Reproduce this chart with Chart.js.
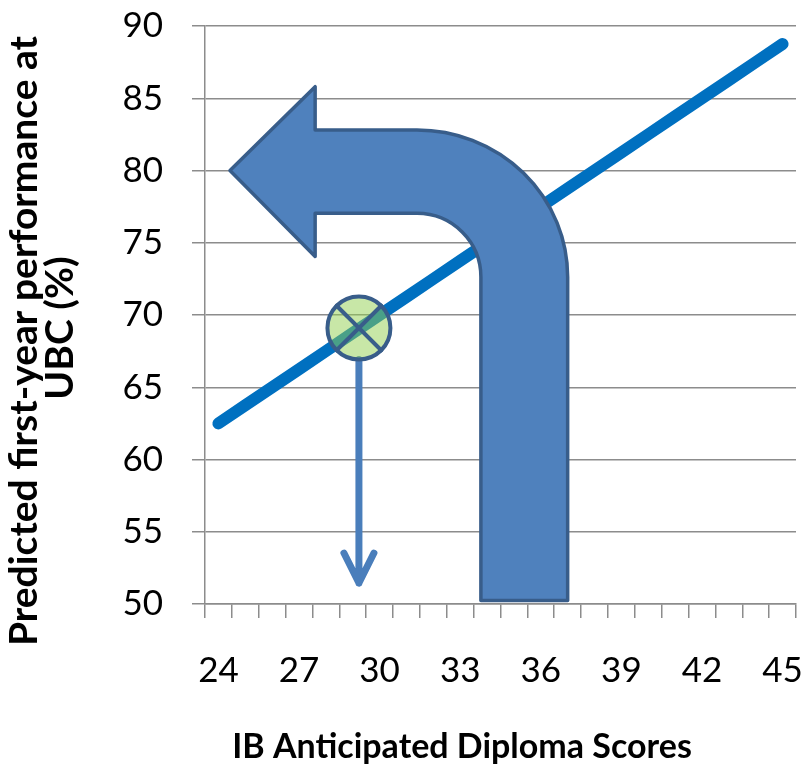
<!DOCTYPE html>
<html>
<head>
<meta charset="utf-8">
<title>IB Anticipated Diploma Scores</title>
<script src="https://cdn.jsdelivr.net/npm/chart.js@4.4.1/dist/chart.umd.min.js"></script>
<style>
  html, body { margin: 0; padding: 0; background: #ffffff; }
  #wrap { width: 807px; height: 766px; }
</style>
</head>
<body>
<div id="wrap"><canvas id="ibChart" width="807" height="766"></canvas></div>
<script>
// IB score categories along the x axis
const scores = ['24', '25', '26', '27', '28', '29', '30', '31', '32', '33', '34',
  '35', '36', '37', '38', '39', '40', '41', '42', '43', '44', '45'];
// Only every third score gets a label
const scoreLabels = ['24', '27', '30', '33', '36', '39', '42', '45'];
// Predicted first-year average (%) for each score
const predicted = [62.5, 63.75, 65, 66.25, 67.5, 68.75, 70, 71.25, 72.5, 73.75, 75,
  76.25, 77.5, 78.75, 80, 81.25, 82.5, 83.75, 85, 86.25, 87.5, 88.75];
const yMin = 50;
const yMax = 90;
const yStep = 5;

const GRID = '#8c8c8c';
const TICK_FONT = "'Lato', 'Open Sans', sans-serif";
const TITLE_FONT = "'Lato', 'Open Sans', sans-serif";

// Shapes drawn on top of the line, in score / percent units
const uTurn = {
  tip: [24.43, 80.0],
  headX: 27.6, headTop: 85.8, headBottom: 74.05,
  shaftTop: 82.8, shaftBottom: 77.04,
  bendX: 31.39, bendY: 72.63,
  innerX: 33.77, outerX: 37.0,
  foot: 50.25
};
const marker = { at: [29.23, 69.1], radius: 31.5, arrowTo: 51.45 };

function xPx(chart, score) {
  return chart.scales.x.getPixelForValue(score - 24);
}
function yPx(chart, value) {
  return chart.scales.y.getPixelForValue(value);
}

const shapesPlugin = {
  id: 'shapes',
  afterDatasetsDraw(chart) {
    const ctx = chart.ctx;
    const u = uTurn;
    const cx = xPx(chart, u.bendX), cy = yPx(chart, u.bendY);

    // big U-turn arrow
    ctx.save();
    ctx.beginPath();
    ctx.moveTo(xPx(chart, u.tip[0]), yPx(chart, u.tip[1]));
    ctx.lineTo(xPx(chart, u.headX), yPx(chart, u.headTop));
    ctx.lineTo(xPx(chart, u.headX), yPx(chart, u.shaftTop));
    ctx.lineTo(cx, yPx(chart, u.shaftTop));
    ctx.ellipse(cx, cy, xPx(chart, u.outerX) - cx, cy - yPx(chart, u.shaftTop), 0, -Math.PI / 2, 0, false);
    ctx.lineTo(xPx(chart, u.outerX), yPx(chart, u.foot));
    ctx.lineTo(xPx(chart, u.innerX), yPx(chart, u.foot));
    ctx.lineTo(xPx(chart, u.innerX), cy);
    ctx.ellipse(cx, cy, xPx(chart, u.innerX) - cx, cy - yPx(chart, u.shaftBottom), 0, 0, -Math.PI / 2, true);
    ctx.lineTo(xPx(chart, u.headX), yPx(chart, u.shaftBottom));
    ctx.lineTo(xPx(chart, u.headX), yPx(chart, u.headBottom));
    ctx.closePath();
    ctx.fillStyle = '#4f81bd';
    ctx.fill();
    ctx.lineJoin = 'round';
    ctx.lineWidth = 3.5;
    ctx.strokeStyle = '#385d8a';
    ctx.stroke();

    // thin arrow dropping from the marker to the x axis
    const mx = xPx(chart, marker.at[0]), my = yPx(chart, marker.at[1]);
    const r = marker.radius;
    const tipY = yPx(chart, marker.arrowTo);
    ctx.lineCap = 'round';
    ctx.strokeStyle = '#4a7ebb';
    ctx.lineWidth = 7;
    ctx.beginPath();
    ctx.moveTo(mx, my + r);
    ctx.lineTo(mx, tipY);
    ctx.moveTo(mx - 15, tipY - 30);
    ctx.lineTo(mx, tipY);
    ctx.lineTo(mx + 15, tipY - 30);
    ctx.stroke();

    // marker circle with a cross
    ctx.beginPath();
    ctx.arc(mx, my, r, 0, Math.PI * 2);
    ctx.fillStyle = 'rgba(146, 208, 80, 0.5)';
    ctx.fill();
    ctx.lineWidth = 4;
    ctx.strokeStyle = '#385d8a';
    ctx.stroke();
    const d = r * Math.SQRT1_2;
    ctx.beginPath();
    ctx.moveTo(mx - d, my - d);
    ctx.lineTo(mx + d, my + d);
    ctx.moveTo(mx + d, my - d);
    ctx.lineTo(mx - d, my + d);
    ctx.stroke();
    ctx.restore();
  }
};

// axis titles, placed by hand so they sit where the layout wants them
const titlesPlugin = {
  id: 'titles',
  afterDraw(chart) {
    const ctx = chart.ctx;
    ctx.save();
    ctx.fillStyle = '#000000';
    ctx.textAlign = 'center';
    ctx.textBaseline = 'alphabetic';
    ctx.font = 'bold 34px ' + TITLE_FONT;
    ctx.fillText('IB Anticipated Diploma Scores', 462, 758);

    ctx.font = 'bold 39px ' + TITLE_FONT;
    ctx.save();
    ctx.translate(37, 341);
    ctx.rotate(-Math.PI / 2);
    ctx.fillText('Predicted first-year performance at', 0, 0);
    ctx.restore();
    ctx.translate(73, 328);
    ctx.rotate(-Math.PI / 2);
    ctx.fillText('UBC (%)', 0, 0);
    ctx.restore();
  }
};

const ctx = document.getElementById('ibChart').getContext('2d');
new Chart(ctx, {
  type: 'line',
  data: {
    labels: scores,
    datasets: [{
      label: 'Predicted performance',
      data: predicted,
      borderColor: '#0070c0',
      borderWidth: 12,
      borderCapStyle: 'round',
      borderJoinStyle: 'round',
      pointRadius: 0,
      tension: 0,
      clip: false
    }]
  },
  options: {
    responsive: false,
    animation: false,
    devicePixelRatio: 1,
    layout: { padding: { top: 26, right: 11, left: 0, bottom: 0 } },
    plugins: {
      legend: { display: false },
      tooltip: { enabled: false }
    },
    scales: {
      x: {
        type: 'category',
        offset: true,
        afterFit: s => {
          s.height = 162;
          s.paddingLeft = 0;
          s.paddingRight = 0;
        },
        grid: {
          offset: true,
          drawOnChartArea: false,
          drawTicks: true,
          tickLength: 14,
          color: GRID,
          lineWidth: 1.5
        },
        border: { color: GRID, width: 1.5 },
        ticks: {
          autoSkip: false,
          maxRotation: 0,
          padding: 32,
          color: '#000000',
          font: { family: TICK_FONT, size: 35 },
          callback: (v, i) => scoreLabels.includes(scores[i]) ? scores[i] : ''
        }
      },
      y: {
        min: yMin,
        max: yMax,
        afterFit: s => {
          s.width = 205;
          s.paddingTop = 0;
          s.paddingBottom = 0;
        },
        grid: {
          color: GRID,
          lineWidth: 1.5,
          tickLength: 13
        },
        border: { color: GRID, width: 1.5 },
        ticks: {
          stepSize: yStep,
          padding: 29,
          color: '#000000',
          font: { family: TICK_FONT, size: 35 }
        }
      }
    }
  },
  plugins: [shapesPlugin, titlesPlugin]
});
</script>
</body>
</html>
